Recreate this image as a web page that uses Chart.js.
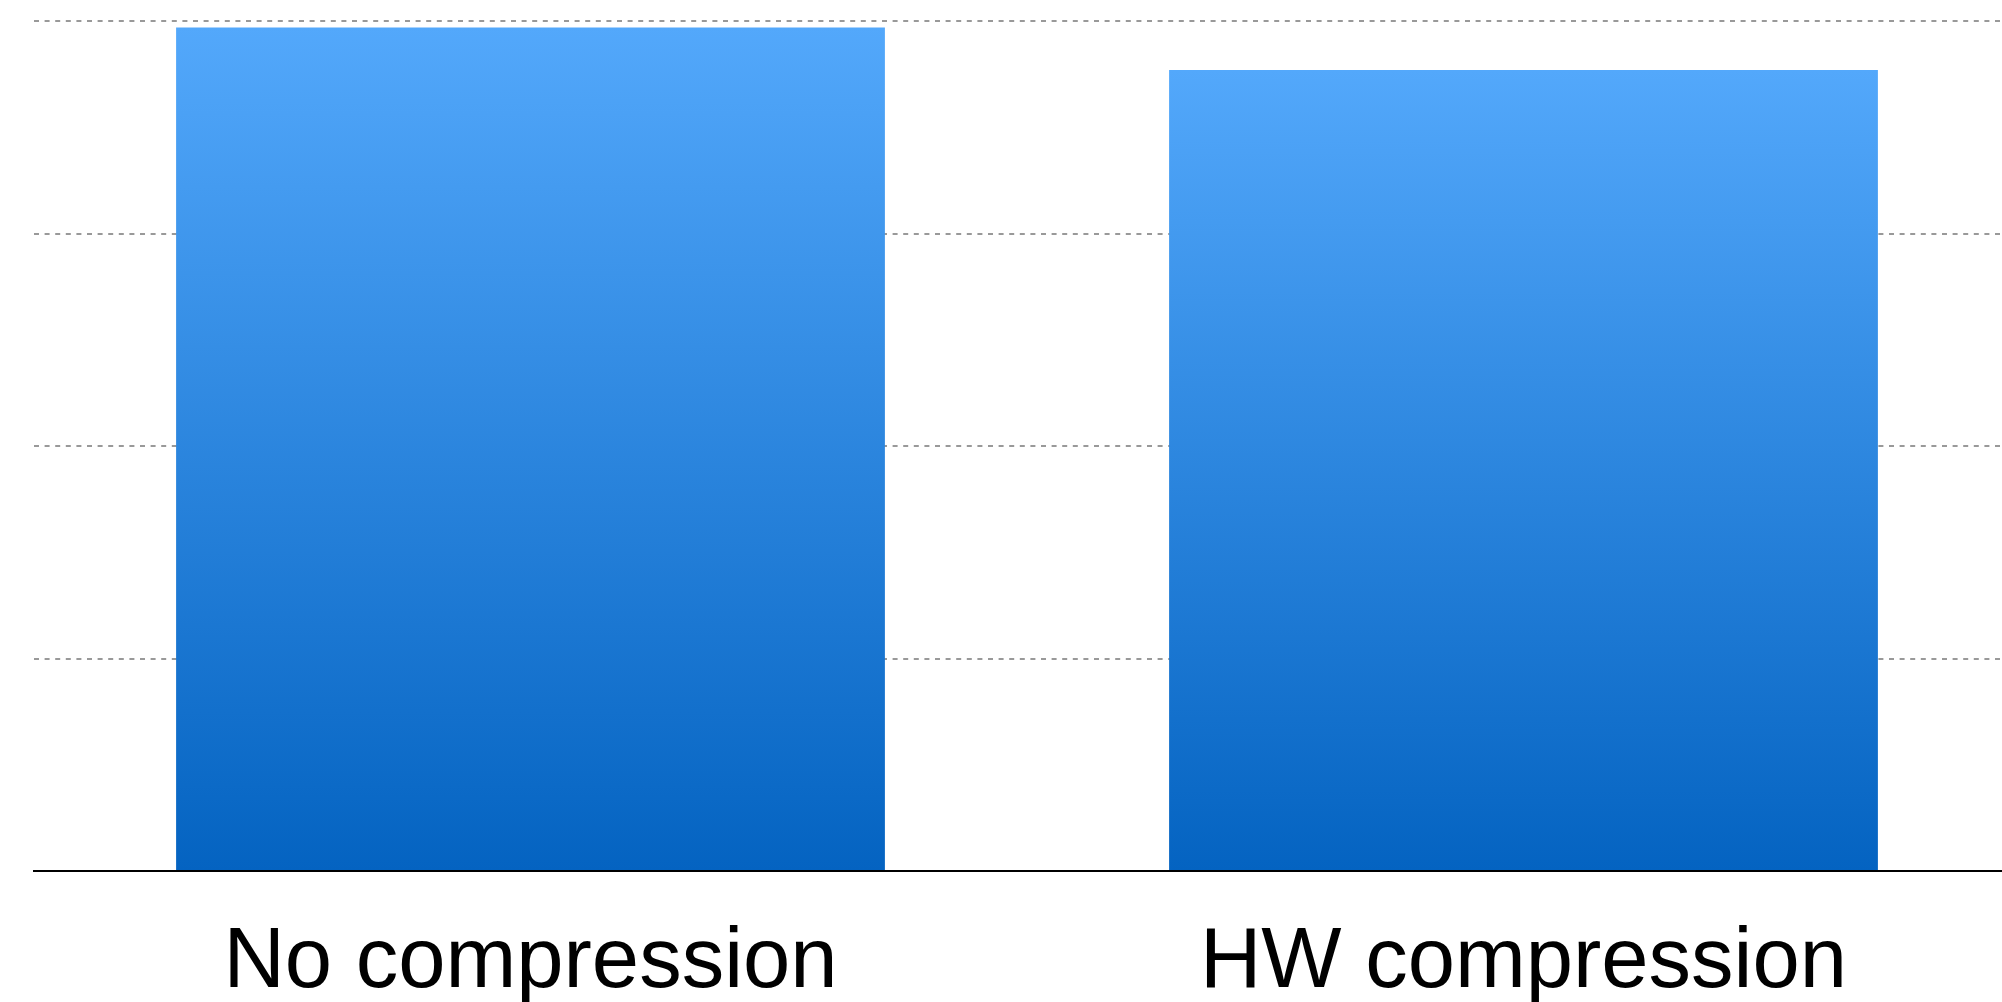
<!DOCTYPE html>
<html>
<head>
<meta charset="utf-8">
<title>Compression</title>
<script src="https://cdn.jsdelivr.net/npm/chart.js@4.4.1/dist/chart.umd.min.js"></script>
<style>
  html, body { margin: 0; padding: 0; background: #fff; overflow: hidden; }
  #wrap { position: relative; width: 2020px; height: 1002px; }
</style>
</head>
<body>
<div id="wrap"><canvas id="myChart"></canvas></div>
<script>
const categories = ['No compression', 'HW compression'];
const throughput = [3.97, 3.77];
const yTicks = [0, 1, 2, 3, 4];

// each bar gets its own vertical gradient, light at the top, dark at the base
const barFill = (context) => {
  const chart = context.chart;
  if (!chart.chartArea || context.raw === undefined) return '#2b86e0';
  const y = chart.scales.y;
  const top = y.getPixelForValue(context.raw);
  const base = y.getPixelForValue(0);
  const g = chart.ctx.createLinearGradient(0, top, 0, base);
  g.addColorStop(0, '#53a8fb');
  g.addColorStop(1, '#0463c1');
  return g;
};

const ctx = document.getElementById('myChart').getContext('2d');
const myChart = new Chart(ctx, {
  type: 'bar',
  data: {
    labels: categories,
    datasets: [
      {
        data: throughput,
        backgroundColor: barFill,
        borderWidth: 0,
        barPercentage: 0.7138,
        categoryPercentage: 1,
      },
    ],
  },
  options: {
    responsive: true,
    maintainAspectRatio: false,
    devicePixelRatio: 1,
    animation: false,
    // labels hang a little past the bottom edge, so the box is pulled down
    layout: { padding: { left: 34, top: 21, right: 0, bottom: -55 } },
    plugins: {
      legend: { display: false },
      tooltip: { enabled: false },
    },
    scales: {
      x: {
        grid: { display: false, drawTicks: false },
        border: { display: true, color: '#000', width: 2 },
        ticks: {
          color: '#000',
          padding: 42,
          font: { family: '"Liberation Sans", Arial, sans-serif', size: 85 },
        },
      },
      y: {
        min: yTicks[0],
        max: yTicks[yTicks.length - 1],
        afterBuildTicks: (axis) => {
          axis.ticks = yTicks.map((v) => ({ value: v }));
        },
        ticks: { display: false },
        border: { display: false, dash: [5, 5.6] },
        grid: {
          drawTicks: false,
          lineWidth: 2,
          color: (c) => (c.tick && c.tick.value === 0 ? 'rgba(0,0,0,0)' : '#999'),
        },
      },
    },
  },
});
</script>
</body>
</html>
